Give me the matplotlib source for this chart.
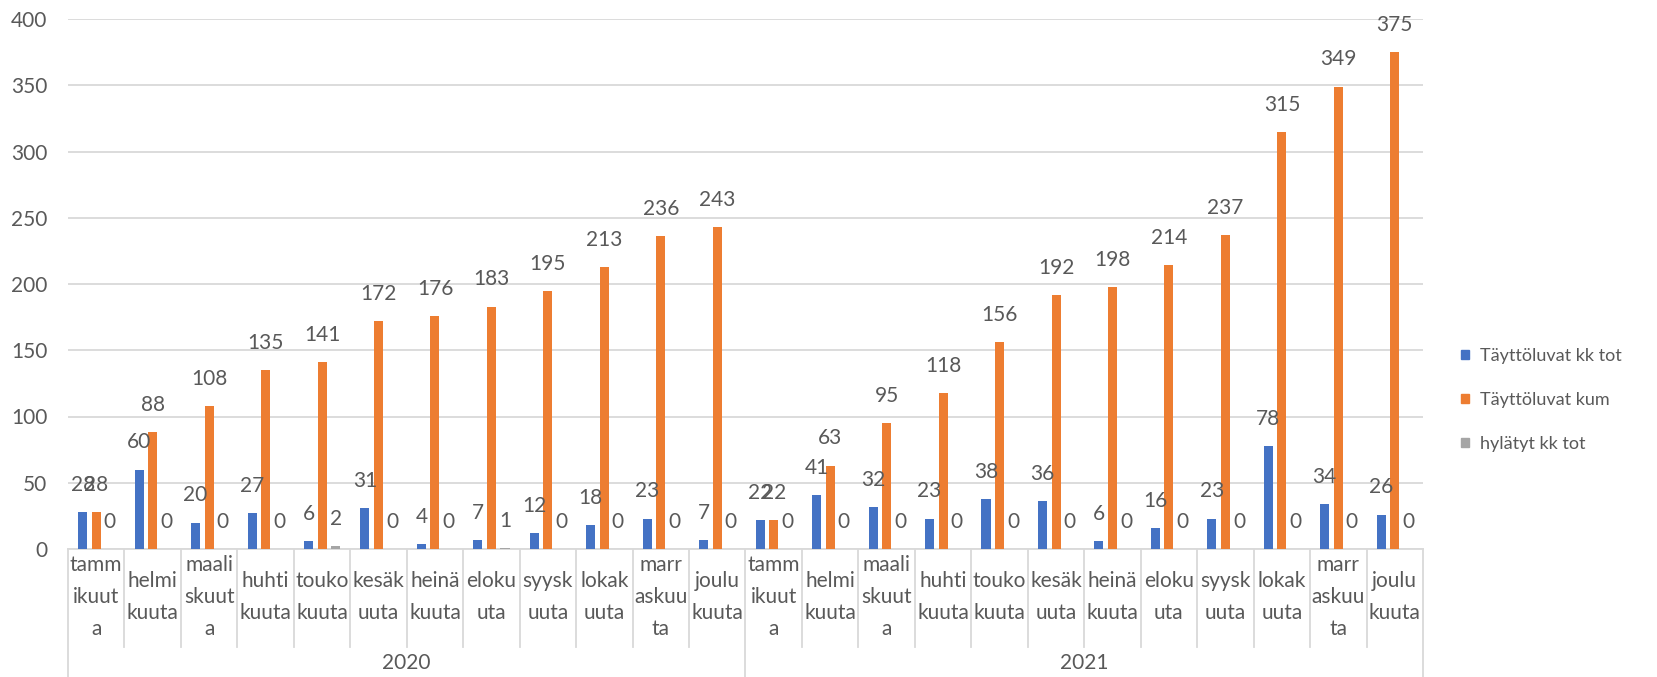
import matplotlib.pyplot as plt
import matplotlib.transforms as mtransforms
from matplotlib.patches import Patch
import numpy as np

plt.rcParams['font.family'] = ['Lato', 'DejaVu Sans']

years = ['2020', '2021']
months = ['tamm\nikuut\na', 'helmi\nkuuta', 'maali\nskuut\na', 'huhti\nkuuta',
          'touko\nkuuta', 'kesäk\nuuta', 'heinä\nkuuta', 'eloku\nuta',
          'syysk\nuuta', 'lokak\nuuta', 'marr\naskuu\nta', 'joulu\nkuuta']
kk_tot = [28, 60, 20, 27, 6, 31, 4, 7, 12, 18, 23, 7,
          22, 41, 32, 23, 38, 36, 6, 16, 23, 78, 34, 26]
kum = [28, 88, 108, 135, 141, 172, 176, 183, 195, 213, 236, 243,
       22, 63, 95, 118, 156, 192, 198, 214, 237, 315, 349, 375]
hylatyt = [0, 0, 0, 0, 2, 0, 0, 1, 0, 0, 0, 0,
           0, 0, 0, 0, 0, 0, 0, 0, 0, 0, 0, 0]
series_names = ['Täyttöluvat kk tot', 'Täyttöluvat kum', 'hylätyt kk tot']
colors = ['#4472C4', '#ED7D31', '#A5A5A5']
text_color = '#595959'
grid_color = '#D9D9D9'

fig = plt.figure(figsize=(16.58, 6.77), dpi=100)
ax = fig.add_axes([68 / 1658, 1 - 549 / 677, (1423 - 68) / 1658, (549 - 19) / 677])

n = len(kk_tot)
x = np.arange(n)
width = 0.16
offsets = [-0.24, 0, 0.24]
for vals, off, c in zip([kk_tot, kum, hylatyt], offsets, colors):
    ax.bar(x + off, vals, width=width, color=c, zorder=3)
    for xi, v in zip(x, vals):
        ax.annotate(str(v), (xi + off, v), xytext=(0, 19.5), textcoords='offset points',
                    ha='center', va='center', fontsize=15, color=text_color, zorder=4)

ax.set_xlim(-0.5, n - 0.5)
ax.set_ylim(0, 400)
ax.set_yticks(range(0, 401, 50))
ax.tick_params(axis='y', length=0, pad=15, labelsize=15, labelcolor=text_color)
ax.set_xticks([])
ax.grid(axis='y', color=grid_color, linewidth=1.3, zorder=0)
for s in ['top', 'right', 'left']:
    ax.spines[s].set_visible(False)
ax.spines['bottom'].set_color(grid_color)
ax.spines['bottom'].set_linewidth(1.3)

# two-level category axis
trans = mtransforms.blended_transform_factory(ax.transData, ax.transAxes)
for b in np.arange(n + 1) - 0.5:
    is_year = (b + 0.5) % 12 == 0
    ax.plot([b, b], [0, -0.245 if is_year else -0.185], transform=trans,
            color=grid_color, linewidth=1.3, clip_on=False)
for i in range(n):
    ax.text(i, -0.0906, months[i % 12], transform=trans, ha='center', va='center',
            fontsize=15, color=text_color, linespacing=1.75)
for k, y in enumerate(years):
    ax.text(k * 12 + 5.5, -0.215, y, transform=trans, ha='center', va='center',
            fontsize=15, color=text_color)

handles = [Patch(color=c) for c in colors]
fig.legend(handles, series_names, loc='center left', bbox_to_anchor=(1461 / 1658, 1 - 400 / 677),
           frameon=False, fontsize=13, labelcolor=text_color, handlelength=0.45,
           handleheight=0.45, handletextpad=0.6, borderpad=0, borderaxespad=0,
           labelspacing=1.55)

fig.savefig('out.png', dpi=100)
